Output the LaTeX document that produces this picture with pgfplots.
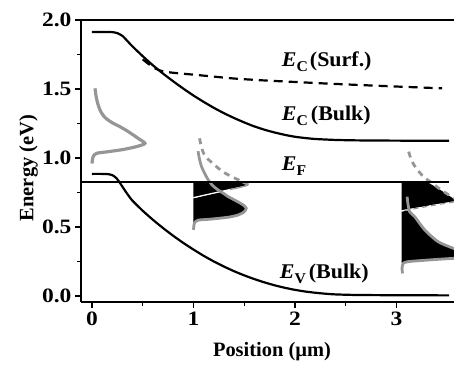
\documentclass[border=0pt]{standalone}
\usepackage{fontspec}
\setmainfont{Liberation Serif}
\newfontfamily\tickfont{Liberation Serif}[FakeStretch=1.15]
\newfontfamily\labfont{Liberation Serif}
\newfontfamily\annfont{Liberation Serif}[FakeStretch=1.05]
\newcommand{\sub}[1]{\raisebox{-5bp}{\fontsize{15}{15}\selectfont #1}}
\usepackage{pgfplots}
\pgfplotsset{compat=1.18}
\definecolor{dgray}{RGB}{150,150,150}
\begin{document}
\begin{tikzpicture}
\begin{axis}[
  at={(0,0)}, anchor=south west,
  scale only axis, width=373bp, height=282bp,
  xmin=-0.108, xmax=3.567, ymin=-0.043, ymax=2.0,
  axis x line=box, axis y line=left,
  axis line style={-, line width=1.5bp},
  xtick={0,1,2,3}, ytick={0,0.5,1,1.5,2},
  minor x tick num=1, minor y tick num=1,
  tick align=outside, xtick pos=left, ytick pos=left,
  major tick length=6bp, minor tick length=4bp,
  every tick/.style={black, line width=1.4bp},
  /pgf/number format/assume math mode=true,
  tick label style={font=\tickfont\bfseries\fontsize{20.5}{22}\selectfont},
  yticklabel style={/pgf/number format/.cd, fixed, fixed zerofill, precision=1},
  xlabel={Position (µm)},
  ylabel={Energy (eV)},
  xlabel style={at={(axis description cs:0.512,-0.195)}, anchor=base, font=\labfont\bfseries\fontsize{20.5}{22}\selectfont},
  ylabel style={at={(axis description cs:-0.128,0.475)}, anchor=base, font=\labfont\bfseries\fontsize{20.5}{22}\selectfont},
]
% ---- distribution 2 fills (x = 1.0)
\addplot[fill=black, draw=none] coordinates {(1.0,0.715) (1.0,0.823) (1.45,0.823) (1.54,0.805) (1.51,0.793) (1.40,0.778) (1.26,0.756) (1.12,0.735)} -- cycle;
\addplot[fill=black, draw=none] coordinates {(1.0,0.527) (1.0,0.708) (1.12,0.729) (1.26,0.752) (1.343,0.72) (1.42,0.69) (1.49,0.66) (1.52,0.636) (1.50,0.61) (1.44,0.587) (1.35,0.572) (1.244,0.563) (1.15,0.556) (1.047,0.55) (1.008,0.527)} -- cycle;
% ---- distribution 3 fills (x = 3.05)
\addplot[fill=black, draw=none] coordinates {(3.05,0.62) (3.05,0.823) (3.31,0.823) (3.41,0.78) (3.56,0.707) (3.65,0.69) (3.56,0.684) (3.4,0.665) (3.25,0.645) (3.1,0.627)} -- cycle;
\addplot[fill=black, draw=none] coordinates {(3.05,0.24) (3.05,0.612) (3.12,0.62) (3.13,0.611) (3.18,0.575) (3.28,0.478) (3.41,0.394) (3.56,0.346) (3.7,0.31) (3.7,0.275) (3.56,0.273) (3.31,0.261) (3.11,0.249)} -- cycle;
% white separation lines
\addplot[white, line width=1.2bp] coordinates {(1.0,0.713) (1.12,0.733) (1.26,0.756) (1.40,0.778) (1.51,0.795)};
\addplot[white, line width=1.2bp] coordinates {(3.05,0.617) (3.1,0.624) (3.25,0.642) (3.4,0.662) (3.56,0.681) (3.65,0.69)};
\addplot[dgray, line width=1.2bp, dash pattern=on 5bp off 4bp] coordinates {(3.08,0.620) (3.25,0.642) (3.4,0.662) (3.56,0.681) (3.65,0.69)};
\addplot[dgray, line width=1.2bp] coordinates {(1.36,0.772) (1.45,0.785) (1.54,0.805)};
% ---- gray distribution curves
\addplot[dgray, line width=3.2bp, smooth, tension=0.5] coordinates {(0.03,1.505) (0.04,1.45) (0.055,1.40) (0.079,1.348) (0.12,1.30) (0.19,1.26) (0.276,1.227) (0.35,1.195) (0.407,1.167) (0.47,1.135) (0.522,1.106) (0.45,1.085) (0.35,1.068) (0.276,1.058) (0.15,1.045) (0.046,1.034) (0.012,1.01) (0.0,0.96)};
\addplot[dgray, line width=2.8bp, smooth, tension=0.4] coordinates {(1.045,1.05) (1.06,0.99) (1.08,0.937) (1.11,0.89) (1.146,0.841) (1.19,0.80) (1.244,0.768) (1.30,0.742) (1.343,0.72) (1.42,0.69) (1.49,0.66) (1.52,0.636) (1.50,0.61) (1.44,0.587) (1.35,0.572) (1.244,0.563) (1.15,0.556) (1.047,0.55) (1.01,0.53) (1.0,0.48)};
\addplot[dgray, line width=2.8bp, dash pattern=on 6bp off 5bp, smooth, tension=0.4] coordinates {(1.06,1.143) (1.075,1.09) (1.10,1.034) (1.14,0.995) (1.19,0.961) (1.29,0.90) (1.41,0.853) (1.47,0.833) (1.52,0.815) (1.54,0.805)};
\addplot[dgray, line width=2.8bp, smooth, tension=0.4] coordinates {(3.105,0.72) (3.115,0.66) (3.13,0.611) (3.18,0.575) (3.28,0.478) (3.41,0.394) (3.56,0.346) (3.7,0.31) (3.72,0.29) (3.7,0.275) (3.56,0.273) (3.31,0.261) (3.11,0.249) (3.065,0.235) (3.055,0.2) (3.06,0.164)};
\addplot[dgray, line width=2.8bp, dash pattern=on 6bp off 5bp, smooth, tension=0.4] coordinates {(3.12,1.046) (3.15,0.98) (3.2,0.92) (3.26,0.87) (3.31,0.84) (3.35,0.82) (3.41,0.785) (3.56,0.712) (3.65,0.69)};
% ---- band edges
\addplot[black, line width=2.2bp, smooth, tension=0.4] coordinates {(0,1.913) (0.1,1.913) (0.2,1.912) (0.25,1.905) (0.3,1.885) (0.34,1.855) (0.4,1.808) (0.5,1.738) (0.6,1.672) (0.7,1.612) (0.8,1.556) (0.9,1.503) (1.0,1.453) (1.1,1.407) (1.2,1.364) (1.3,1.325) (1.4,1.290) (1.5,1.258) (1.6,1.229) (1.7,1.205) (1.8,1.185) (1.9,1.168) (2.0,1.154) (2.1,1.145) (2.2,1.138) (2.4,1.131) (2.6,1.128) (2.8,1.127) (3.0,1.126) (3.52,1.125)};
\addplot[black, line width=2.2bp, dash pattern=on 9bp off 6bp, smooth, tension=0.4] coordinates {(0.50,1.715) (0.56,1.68) (0.62,1.65) (0.68,1.632) (0.75,1.622) (0.85,1.614) (1.0,1.604) (1.2,1.59) (1.4,1.576) (1.7,1.562) (2.0,1.551) (2.3,1.54) (2.7,1.527) (3.1,1.515) (3.45,1.505)};
\addplot[black, line width=2.2bp, smooth, tension=0.4] coordinates {(0,0.885) (0.1,0.885) (0.16,0.883) (0.2,0.876) (0.24,0.855) (0.28,0.815) (0.32,0.77) (0.36,0.728) (0.4,0.69) (0.5,0.618) (0.6,0.553) (0.7,0.493) (0.8,0.437) (0.9,0.385) (1.0,0.337) (1.1,0.292) (1.2,0.251) (1.3,0.214) (1.4,0.180) (1.5,0.150) (1.6,0.123) (1.7,0.099) (1.8,0.078) (1.9,0.060) (2.0,0.045) (2.1,0.033) (2.2,0.024) (2.3,0.017) (2.4,0.012) (2.6,0.008) (3.0,0.006) (3.52,0.005)};
\addplot[black, line width=2bp] coordinates {(-0.108,0.823) (3.52,0.823)};
% ---- annotations
\node[anchor=base west, inner sep=0pt, font=\annfont\bfseries\fontsize{21}{22}\selectfont] at (axis cs:1.87,1.66) {\textit{E}\sub{C}\hspace{2bp}(Surf.)};
\node[anchor=base west, inner sep=0pt, font=\annfont\bfseries\fontsize{21}{22}\selectfont] at (axis cs:1.87,1.275) {\textit{E}\sub{C}\hspace{3bp}(Bulk)};
\node[anchor=base west, inner sep=0pt, font=\annfont\bfseries\fontsize{21}{22}\selectfont] at (axis cs:1.87,0.913) {\textit{E}\sub{F}};
\node[anchor=base west, inner sep=0pt, font=\annfont\bfseries\fontsize{21}{22}\selectfont] at (axis cs:1.85,0.13) {\textit{E}\sub{V}\hspace{3bp}(Bulk)};
\end{axis}
\pgfresetboundingbox
\path[use as bounding box] (-81bp,-63bp) rectangle (373bp,302bp);
\end{tikzpicture}
\end{document}
